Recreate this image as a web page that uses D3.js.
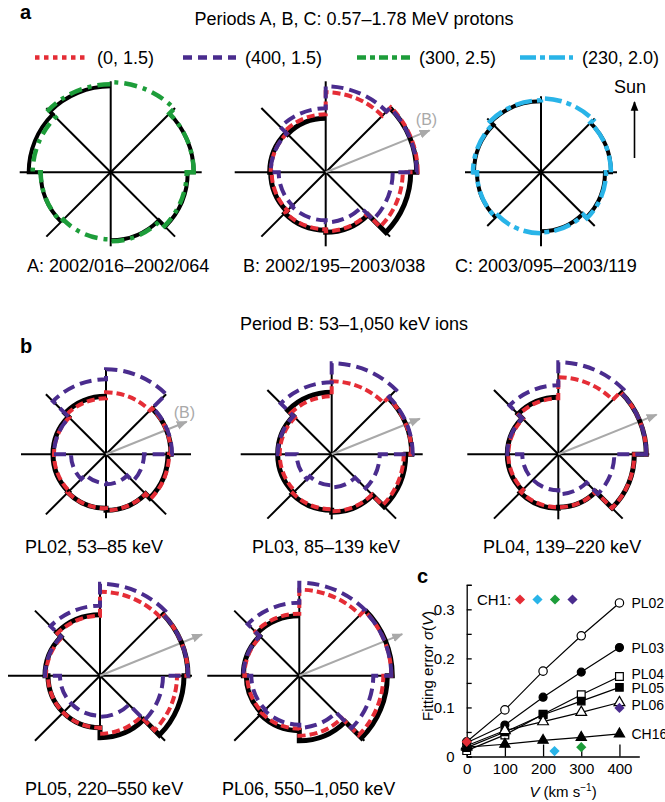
<!DOCTYPE html>
<html>
<head>
<meta charset="utf-8">
<script src="https://cdn.jsdelivr.net/npm/d3@7"></script>
<style>
  body { margin: 0; background: #fff; }
  svg { display: block; font-family: "Liberation Sans", Arial, Helvetica, sans-serif; }
</style>
</head>
<body>
<svg id="fig" width="665" height="802"></svg>
<script>
// Sector intensities, 8 sectors of 45 deg each.
// Sector 0 = east .. north-east, then counter-clockwise. null = no data.
const sectors = [0, 1, 2, 3, 4, 5, 6, 7];

// panel a, period A
const A_obs   = [83, null, 86, 82, 70, null, 68, 77];
const A_green = [83, 90, 88, 78, 70, 67, 69, 76];
// period B
const B_obs    = [91, null, 54, 56, 55, 58, 60, 85];
const B_red    = [92, 80, 58, 55, 54, 57, 59, 77];
const B_purple = [91, 86, 64, 55, 47, 48, 50, 67];
// period C
const C_obs  = [70, null, 71, 67, 64, null, 59, 64];
const C_cyan = [70, 74, 72, 68, 64, 61, 60, 65];

// panel b, period B ions
const PL02_obs    = [65, null, 58, 53, 53, 54, 56, 62];
const PL02_red    = [65, 62, 56, 52, 52, 54, 56, 63];
const PL02_purple = [66, 85, 75, 52, 35, 29, 30, 38];

const PL03_obs    = [80, null, 62, 54, 54, 56, 58, 74];
const PL03_red    = [80, 73, 58, 52, 52, 55, 57, 72];
const PL03_purple = [81, 91, 72, 54, 35, 31, 33, 48];

const PL04_obs    = [88, null, 57, 51, 51, 54, 53, 76];
const PL04_red    = [88, 77, 56, 50, 50, 53, 53, 76];
const PL04_purple = [88, 92, 69, 51, 36, 36, 40, 56];

const PL05_obs    = [88, null, 61, 55, 52, 52, 62, 84];
const PL05_red    = [88, 84, 60, 54, 52, 52, 58, 77];
const PL05_purple = [88, 92, 70, 55, 40, 40, 41, 63];

const PL06_obs    = [93, null, 60, 56, 53, 55, 65, 88];
const PL06_red    = [92, 86, 62, 55, 52, 53, 60, 84];
const PL06_purple = [92, 93, 73, 56, 48, 49, 52, 74];

// legend of the model curves (V, gamma)
const modelKeys   = ["red", "purple", "green", "cyan"];
const modelLabels = ["(0, 1.5)", "(400, 1.5)", "(300, 2.5)", "(230, 2.0)"];

// panel c
const speeds = [0, 100, 200, 300, 400];
const PL02_err = [0.030, 0.095, 0.174, 0.246, 0.313];
const PL03_err = [0.028, 0.064, 0.121, 0.172, 0.222];
const PL04_err = [0.012, 0.044, 0.086, 0.126, 0.163];
const PL05_err = [0.018, 0.050, 0.085, 0.113, 0.141];
const PL06_err = [0.022, 0.053, 0.071, 0.090, 0.110];
const CH16_err = [0.019, 0.025, 0.033, 0.039, 0.046];
const CH1_speed = [0, 230, 300, 400];
const CH1_err   = [0.030, 0.011, 0.019, 0.099];
const CH1_keys  = ["red", "cyan", "green", "purple"];

const colors = { red: "#e52d36", purple: "#4a2c8e", green: "#1d9d3a", cyan: "#29b4e8", obs: "#000" };
const lineStyle = {
  obs:    { width: 5,   dash: null },
  red:    { width: 4,   dash: "8,4" },
  purple: { width: 4,   dash: "12,6" },
  green:  { width: 4.5, dash: "13,6,4,6" },
  cyan:   { width: 4.5, dash: "17,5,5,5" }
};

const svg = d3.select("#fig");
svg.append("rect").attr("width", 665).attr("height", 802).attr("fill", "#fff");

svg.append("defs").html(`
  <marker id="headGray" viewBox="0 0 10 10" refX="9" refY="5" markerWidth="5.5" markerHeight="5.5" orient="auto" markerUnits="strokeWidth">
    <path d="M0,1 L10,5 L0,9 z" fill="#a9a9a9"/></marker>
  <marker id="headBlack" viewBox="0 0 10 10" refX="9" refY="5" markerWidth="6" markerHeight="7" orient="auto" markerUnits="strokeWidth">
    <path d="M0,1 L10,5 L0,9 z" fill="#000"/></marker>`);

// ---------- polar step plots ----------
function sectorPath(vals, cx, cy, r) {
  const p = d3.path();
  const gap = vals.findIndex(v => v == null);
  const first = gap < 0 ? 0 : gap + 1;
  let pen = false;
  for (let k = 0; k < vals.length; k++) {
    const i = (first + k) % vals.length;
    const v = vals[i];
    if (v == null) { pen = false; continue; }
    const a0 = -i * Math.PI / 4, a1 = -(i + 1) * Math.PI / 4;
    const rr = r(v);
    if (!pen) { p.moveTo(cx + rr * Math.cos(a0), cy + rr * Math.sin(a0)); pen = true; }
    p.arc(cx, cy, rr, a0, a1, true);
  }
  if (gap < 0) p.closePath();
  return p.toString();
}

const roses = [
  { cx: 110.7, cy: 172.3, L: 91, down: 74, obsW: 4, series: [["obs", A_obs], ["green", A_green]] },
  { cx: 325.7, cy: 172.3, L: 91, down: 74, arrow: 112, bLabel: true, series: [["obs", B_obs], ["red", B_red], ["purple", B_purple]] },
  { cx: 541,   cy: 172.3, L: 76, down: 74, obsW: 4, series: [["obs", C_obs], ["cyan", C_cyan]] },
  { cx: 106,   cy: 454.3, L: 85, down: 64, arrow: 87, bLabel: true, series: [["obs", PL02_obs], ["red", PL02_red], ["purple", PL02_purple]] },
  { cx: 331.7, cy: 454.3, L: 91, down: 65, arrow: 95, series: [["obs", PL03_obs], ["red", PL03_red], ["purple", PL03_purple]] },
  { cx: 558.3, cy: 454.3, L: 91, down: 65, arrow: 106, series: [["obs", PL04_obs], ["red", PL04_red], ["purple", PL04_purple]] },
  { cx: 100,   cy: 675.7, L: 92, down: 64, arrow: 110, series: [["obs", PL05_obs], ["red", PL05_red], ["purple", PL05_purple]] },
  { cx: 299.3, cy: 675.7, L: 92, down: 64, arrow: 111, series: [["obs", PL06_obs], ["red", PL06_red], ["purple", PL06_purple]] }
];

roses.forEach(p => {
  const g = svg.append("g");
  const r = d3.scaleLinear().domain([0, 100]).range([0, 100]);

  g.selectAll("line.spoke")
    .data(sectors)
    .join("line")
    .attr("class", "spoke")
    .attr("x1", p.cx).attr("y1", p.cy)
    .attr("x2", i => p.cx + (i === 6 ? p.down : p.L) * Math.cos(i * Math.PI / 4))
    .attr("y2", i => p.cy - (i === 6 ? p.down : p.L) * Math.sin(i * Math.PI / 4))
    .attr("stroke", "#000").attr("stroke-width", 2);

  if (p.arrow) {
    const a = 22 * Math.PI / 180;
    g.append("line")
      .attr("x1", p.cx).attr("y1", p.cy)
      .attr("x2", p.cx + p.arrow * Math.cos(a)).attr("y2", p.cy - p.arrow * Math.sin(a))
      .attr("stroke", "#a9a9a9").attr("stroke-width", 2)
      .attr("marker-end", "url(#headGray)");
  }
  if (p.bLabel) {
    g.append("text")
      .attr("x", p.cx + p.arrow * 0.9).attr("y", p.cy - p.arrow * 0.42)
      .attr("text-anchor", "middle").attr("font-size", 16).attr("fill", "#a9a9a9")
      .text("(B)");
  }

  g.selectAll("path.series")
    .data(p.series)
    .join("path")
    .attr("class", "series")
    .attr("d", d => sectorPath(d[1], p.cx, p.cy, r))
    .attr("fill", "none")
    .attr("stroke", d => colors[d[0]])
    .attr("stroke-width", d => d[0] === "obs" && p.obsW ? p.obsW : lineStyle[d[0]].width)
    .attr("stroke-dasharray", d => lineStyle[d[0]].dash)
    .attr("stroke-linejoin", "miter");
});

// ---------- texts of panels a and b ----------
const txt = (x, y, s, size, opts = {}) => svg.append("text")
  .attr("x", x).attr("y", y).attr("font-size", size)
  .attr("text-anchor", opts.anchor || "start")
  .attr("font-weight", opts.bold ? "bold" : null)
  .text(s);

txt(20, 19, "a", 20, { bold: true });
txt(354, 25, "Periods A, B, C: 0.57–1.78 MeV protons", 18, { anchor: "middle" });
txt(20, 353, "b", 20, { bold: true });
txt(354, 330, "Period B: 53–1,050 keV ions", 18, { anchor: "middle" });
txt(417, 583, "c", 20, { bold: true });

const captions = [
  [27, 272, "A: 2002/016–2002/064"], [243, 272, "B: 2002/195–2003/038"], [455, 272, "C: 2003/095–2003/119"],
  [25, 553, "PL02, 53–85 keV"], [252, 553, "PL03, 85–139 keV"], [483, 553, "PL04, 139–220 keV"],
  [25, 795, "PL05, 220–550 keV"], [222, 795, "PL06, 550–1,050 keV"]
];
captions.forEach(c => txt(c[0], c[1], c[2], 18));

// legend
const legX = [35, 183, 357, 520];
const leg = svg.append("g");
modelKeys.forEach((k, i) => {
  const dash = { red: "4.5,4.5", purple: "9,6", green: "9,4,5,4", cyan: "16,4,5,4" }[k];
  leg.append("line")
    .attr("x1", legX[i]).attr("x2", legX[i] + 53).attr("y1", 57.5).attr("y2", 57.5)
    .attr("stroke", colors[k]).attr("stroke-width", 4.5).attr("stroke-dasharray", dash);
  leg.append("text").attr("x", legX[i] + 62).attr("y", 64).attr("font-size", 18).text(modelLabels[i]);
});

// Sun arrow
txt(630, 93, "Sun", 18, { anchor: "middle" });
svg.append("line").attr("x1", 634.5).attr("y1", 158).attr("x2", 634.5).attr("y2", 102)
  .attr("stroke", "#000").attr("stroke-width", 1.6).attr("marker-end", "url(#headBlack)");

// ---------- panel c ----------
const x = d3.scaleLinear().domain([0, 452]).range([466.7, 639.3]);
const y = d3.scaleLinear().domain([0, 0.35]).range([756.5, 584.8]);
const gc = svg.append("g").attr("font-size", 15);

const xAxis = gc.append("g").attr("transform", `translate(0,${y(0)})`)
  .call(d3.axisBottom(x).tickValues(speeds).tickSizeInner(-12).tickSizeOuter(0).tickPadding(7));
const yAxis = gc.append("g").attr("transform", `translate(${x(0)},0)`)
  .call(d3.axisLeft(y).tickValues(d3.range(0, 0.351, 0.05)).tickSizeInner(-5).tickSizeOuter(-5).tickPadding(12)
    .tickFormat(d => Math.abs(d * 10 - Math.round(d * 10)) < 1e-6 ? (d === 0 ? "0" : d.toFixed(1)) : ""));
[xAxis, yAxis].forEach(a => {
  a.attr("font-family", null).attr("font-size", 15);
  a.selectAll("path, line").attr("stroke", "#000").attr("stroke-width", 1.3);
  a.selectAll("text").attr("fill", "#000");
});

const channels = [
  { name: "PL02", vals: PL02_err, sym: d3.symbolCircle, size: 55, filled: false, dy: 5 },
  { name: "PL03", vals: PL03_err, sym: d3.symbolCircle, size: 50, filled: true, dy: 5 },
  { name: "PL04", vals: PL04_err, sym: d3.symbolSquare, size: 60, filled: false, dy: 2 },
  { name: "PL05", vals: PL05_err, sym: d3.symbolSquare, size: 56, filled: true, dy: 6 },
  { name: "PL06", vals: PL06_err, sym: d3.symbolTriangle, size: 50, filled: false, dy: 7 },
  { name: "CH16", vals: CH16_err, sym: d3.symbolTriangle, size: 45, filled: true, dy: 5 }
];
const line = d3.line().x((d, i) => x(speeds[i])).y(d => y(d));

channels.forEach(c => {
  gc.append("path").attr("d", line(c.vals)).attr("fill", "none").attr("stroke", "#000").attr("stroke-width", 1.2);
});
channels.forEach(c => {
  gc.selectAll(null).data(c.vals).join("path")
    .attr("transform", (d, i) => `translate(${x(speeds[i])},${y(d)})`)
    .attr("d", d3.symbol(c.sym, c.size))
    .attr("fill", c.filled ? "#000" : "#fff").attr("stroke", "#000").attr("stroke-width", 1.2);
  gc.append("text").attr("x", x(400) + 12).attr("y", y(c.vals[c.vals.length - 1]) + c.dy)
    .attr("font-size", 14).text(c.name);
});

// CH1 diamonds
gc.selectAll(null).data(CH1_err).join("path")
  .attr("transform", (d, i) => `translate(${x(CH1_speed[i])},${y(d)}) rotate(45)`)
  .attr("d", d3.symbol(d3.symbolSquare, 52))
  .attr("fill", (d, i) => colors[CH1_keys[i]]);
gc.append("text").attr("x", 477).attr("y", 604.5).text("CH1:");
gc.selectAll(null).data(CH1_keys).join("path")
  .attr("transform", (d, i) => `translate(${520 + i * 17.5},599.5) rotate(45)`)
  .attr("d", d3.symbol(d3.symbolSquare, 52))
  .attr("fill", d => colors[d]);

// axis titles
const xl = gc.append("text").attr("x", 563).attr("y", 797).attr("text-anchor", "middle");
xl.append("tspan").attr("font-style", "italic").text("V");
xl.append("tspan").text(" (km s");
xl.append("tspan").attr("dy", -6).attr("font-size", 10).text("−1");
xl.append("tspan").attr("dy", 6).text(")");

const yl = gc.append("text").attr("transform", "translate(433,666) rotate(-90)").attr("text-anchor", "middle");
yl.append("tspan").text("Fitting error ");
yl.append("tspan").attr("font-style", "italic").text("σ");
yl.append("tspan").text("(");
yl.append("tspan").attr("font-style", "italic").text("V");
yl.append("tspan").text(")");
</script>
</body>
</html>
